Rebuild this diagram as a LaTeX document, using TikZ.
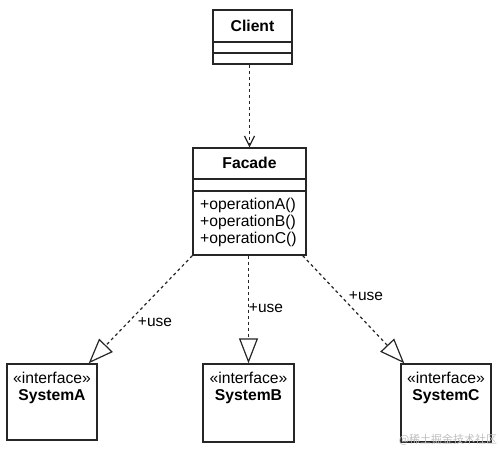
\documentclass[tikz,border=0pt]{standalone}
\usepackage{fontspec}
\setmainfont{Liberation Sans}
\newfontfamily\cjk{Noto Sans CJK SC}
\usetikzlibrary{arrows.meta,calc}
\begin{document}
\begin{tikzpicture}[x=1pt,y=-1pt,
  box/.style={draw=black!85,line width=1.4pt,fill=white,inner sep=0pt},
  txt/.style={inner sep=0pt,font=\fontsize{15.7}{17}\selectfont},
  btxt/.style={inner sep=0pt,font=\fontsize{15.7}{17}\selectfont\bfseries},
  dep/.style={draw=black!85,line width=1.2pt,dash pattern=on 3pt off 3pt,
    -{Straight Barb[length=10pt,width=10pt,line width=1.2pt]}},
  real/.style={draw=black!85,line width=1.2pt,dash pattern=on 3pt off 3pt,
    -{Triangle[open,length=25pt,width=19pt,line width=1.2pt,fill=white]}},
  lbl/.style={inner sep=0pt,font=\fontsize{15.5}{17}\selectfont}]
\useasboundingbox (0,0) rectangle (499,450);
% Client
\node[box,minimum width=79pt,minimum height=54pt] (client) at (252.5,37) {};
\node[btxt] (clientname) at (252.5,26) {Client};
\draw[black!85,line width=1.4pt] (client.west |- 0,42) -- (client.east |- 0,42);
\draw[black!85,line width=1.4pt] (client.west |- 0,53) -- (client.east |- 0,53);
% Facade
\node[box,minimum width=113pt,minimum height=107pt] (facade) at (249.5,201.5) {};
\node[btxt] (facadename) at (249.5,163) {Facade};
\draw[black!85,line width=1.4pt] (facade.west |- 0,179) -- (facade.east |- 0,179);
\draw[black!85,line width=1.4pt] (facade.west |- 0,191) -- (facade.east |- 0,191);
\node[txt,align=left,anchor=west] (ops) at (200,222) {+operationA()\\+operationB()\\+operationC()};
% Systems
\node[box,minimum width=90pt,minimum height=76pt] (sysA) at (52,402) {};
\node[txt] (sysAst) at (52,378) {«interface»};
\node[btxt] (sysAname) at (52,397) {SystemA};
\node[box,minimum width=91pt,minimum height=78pt] (sysB) at (248.5,403) {};
\node[txt] (sysBst) at (248.5,378) {«interface»};
\node[btxt] (sysBname) at (248.5,397) {SystemB};
\node[box,minimum width=90pt,minimum height=78pt] (sysC) at (446,403) {};
\node[txt] (sysCst) at (446,378) {«interface»};
\node[btxt] (sysCname) at (446,397) {SystemC};
% connectors
\coordinate (cA) at ($(sysA.north east)+(-9,0)$);
\coordinate (cC) at ($(sysC.north west)+(4,0)$);
\coordinate (fC) at ($(facade.south east)+(-4,0)$);
\draw[dep] (client.south -| facade.north) -- (facade.north);
\draw[real] (facade.south west) -- (cA);
\draw[real] (facade.south -| sysB.north) -- (sysB.north);
\draw[real] (fC) -- (cC);
\node[lbl] (uA) at (155,322) {+use};
\node[lbl] (uB) at (266,308) {+use};
\node[lbl] (uC) at (366,296) {+use};
% watermark
\node[inner sep=0pt,text=black!25,font=\cjk\fontsize{11}{12}\selectfont] (wm) at (448,440) {@稀土掘金技术社区};
\end{tikzpicture}
\end{document}
